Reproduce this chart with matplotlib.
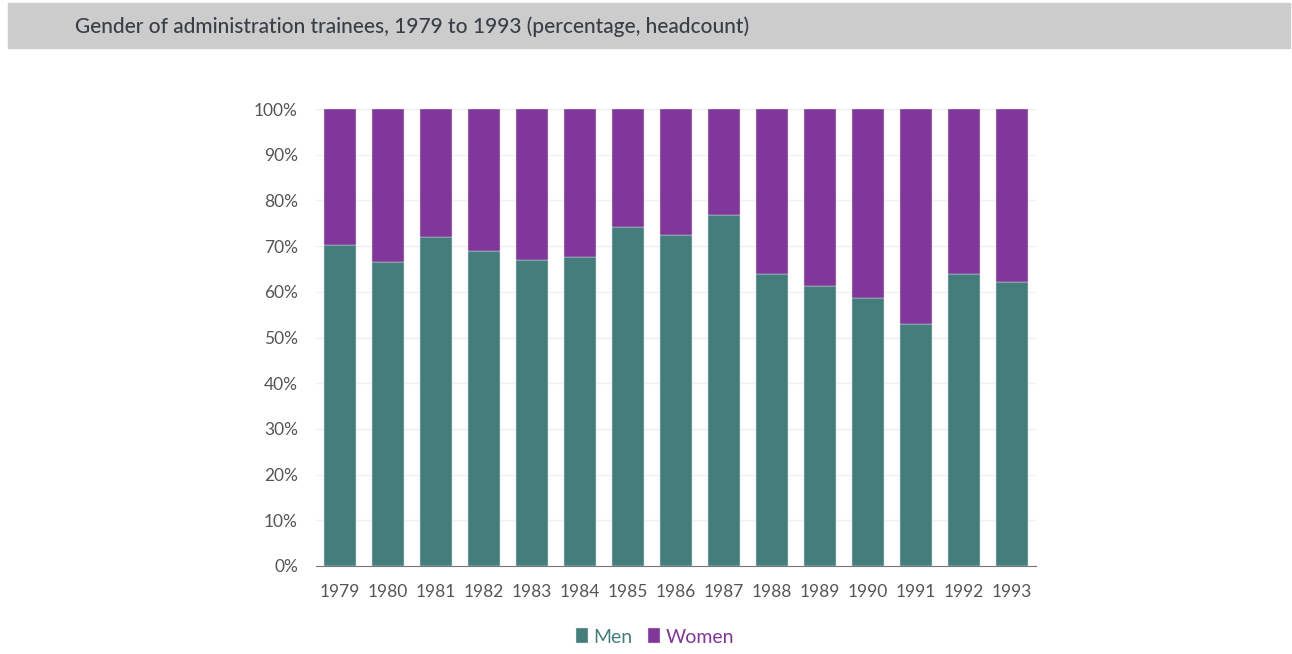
import matplotlib.pyplot as plt
from matplotlib.patches import Rectangle
from matplotlib.ticker import FuncFormatter

years = ['1979', '1980', '1981', '1982', '1983', '1984', '1985', '1986',
         '1987', '1988', '1989', '1990', '1991', '1992', '1993']
men = [70.2, 66.6, 72.1, 68.9, 67.0, 67.7, 74.1, 72.5,
       76.9, 63.8, 61.2, 58.7, 52.9, 63.8, 62.2]
women = [100 - m for m in men]

MEN_COL = '#457d7d'
WOMEN_COL = '#7f3799'

plt.rcParams['font.family'] = ['Lato', 'DejaVu Sans']

fig = plt.figure(figsize=(12.92, 6.54), dpi=100)

# grey title band
fig.patches.append(Rectangle((8 / 1292, 1 - 48 / 654), 1282 / 1292, 45 / 654,
                             transform=fig.transFigure, color='#cccccc', zorder=0))
fig.text(75 / 1292, 1 - 27 / 654, 'Gender of administration trainees, 1979 to 1993 (percentage, headcount)',
         fontsize=15, fontweight='medium', color='#3a3f46', va='center', ha='left')

ax = fig.add_axes([316 / 1292, 88 / 654, 720 / 1292, 457 / 654])
x = range(len(years))
ax.bar(x, men, width=0.66, color=MEN_COL, edgecolor='#dfe8e8', linewidth=0.3, label='Men', zorder=3)
ax.bar(x, women, width=0.66, bottom=men, color=WOMEN_COL, edgecolor='#e6d8ec', linewidth=0.3,
       label='Women', zorder=3)

ax.set_xlim(-0.5, len(years) - 0.5)
ax.set_ylim(0, 100)
ax.set_yticks(range(0, 101, 10))
ax.yaxis.set_major_formatter(FuncFormatter(lambda v, p: '%d%%' % v))
ax.set_xticks(list(x))
ax.set_xticklabels(years)
ax.grid(axis='y', color='#eef0f0', linewidth=1, zorder=0)
for s in ['top', 'right', 'left']:
    ax.spines[s].set_visible(False)
ax.spines['bottom'].set_color('#777777')
ax.tick_params(axis='both', length=0, labelsize=12.5, colors='#555555')
ax.tick_params(axis='y', pad=13)
ax.tick_params(axis='x', pad=13)

leg = fig.legend(loc='center', bbox_to_anchor=(655 / 1292, 1 - 637 / 654), ncol=2, frameon=False,
                 fontsize=14, handlelength=0.6, handleheight=0.8, handletextpad=0.3, columnspacing=0.8)
for t, c in zip(leg.get_texts(), [MEN_COL, WOMEN_COL]):
    t.set_color(c)

fig.savefig('out.png', dpi=100)
